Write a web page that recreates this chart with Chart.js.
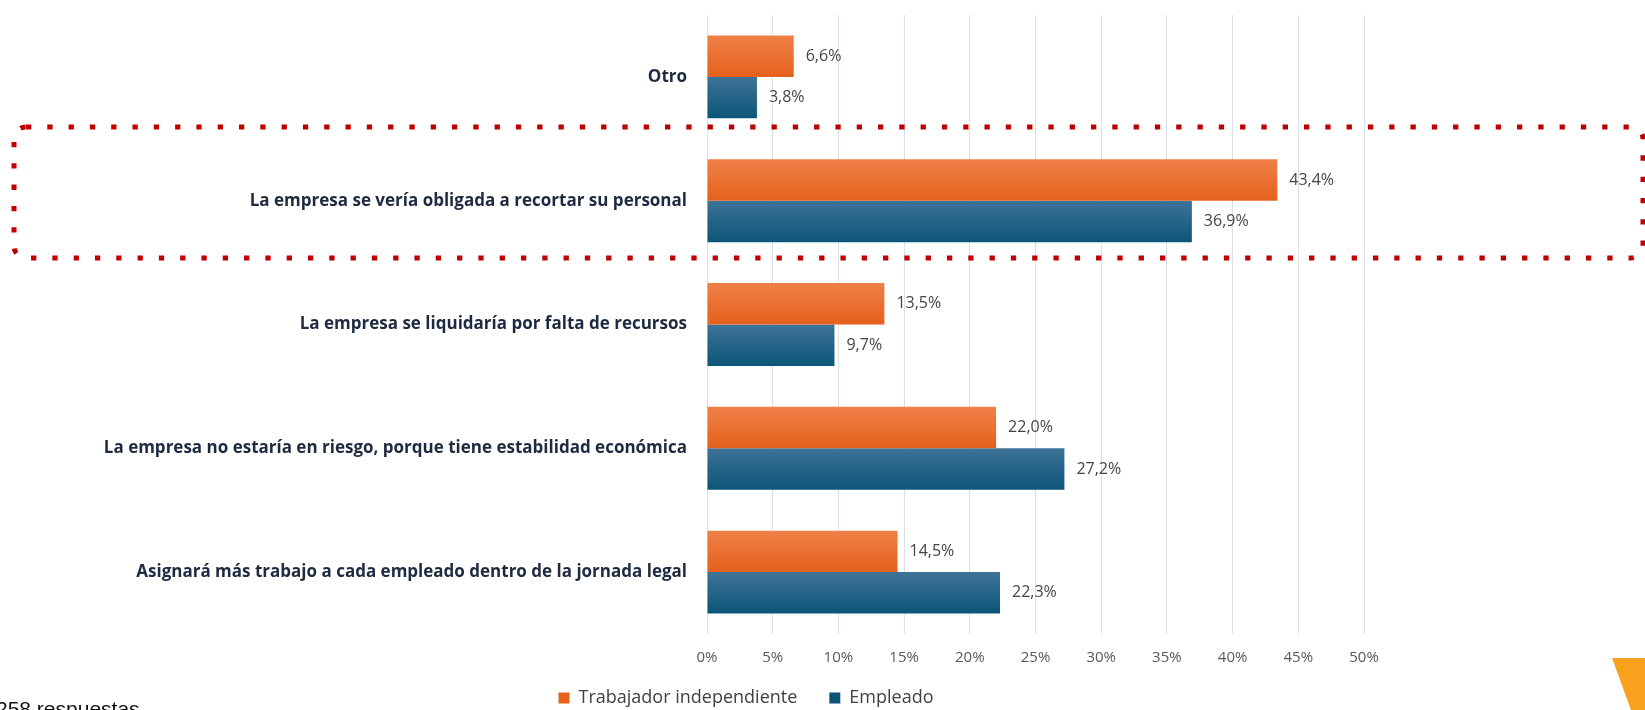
<!DOCTYPE html>
<html>
<head>
<meta charset="utf-8">
<script src="https://cdn.jsdelivr.net/npm/chart.js@4"></script>
<style>
  html, body { margin: 0; padding: 0; background: #fff; }
  #wrap { position: relative; width: 1645px; height: 710px; overflow: hidden; }
  #chart { position: absolute; left: 0; top: 0; }
  #note { position: absolute; left: -4px; top: 697px; font: 21px "Liberation Sans", Arial, sans-serif; color: #111; white-space: nowrap; }
</style>
</head>
<body>
<div id="wrap">
  <canvas id="chart" width="1645" height="710"></canvas>
  <div id="note">258 respuestas</div>
</div>
<script>
const CATEGORIES = [
    'Otro',
    'La empresa se vería obligada a recortar su personal',
    'La empresa se liquidaría por falta de recursos',
    'La empresa no estaría en riesgo, porque tiene estabilidad económica',
    'Asignará más trabajo a cada empleado dentro de la jornada legal'
];
const SERIES_NAMES = ['Trabajador independiente', 'Empleado'];
const INDEPENDIENTE = [6.6, 43.4, 13.5, 22.0, 14.5];
const EMPLEADO = [3.8, 36.9, 9.7, 27.2, 22.3];
const X_MAX = 50;
const X_STEP = 5;

const CAT_PCT = 0.67;
const FONT = '"Open Sans", "Liberation Sans", Arial, sans-serif';
const LEGEND_PAD = 32;
const LEGEND_CENTER_X = 730;
const LEGEND_CENTER_Y = 698;

// vertical gradient for each bar, computed from the y scale
function barFill(topColor, bottomColor, solid) {
    return (c) => {
        if (c.dataIndex === undefined) return solid;
        const chart = c.chart;
        const y = chart.scales.y;
        if (!y || !chart.chartArea) return solid;
        const center = y.getPixelForValue(c.dataIndex);
        const group = (y.height / CATEGORIES.length) * CAT_PCT;
        const h = group / 2;
        const t = center - group / 2 + c.datasetIndex * h;
        const g = chart.ctx.createLinearGradient(0, t, 0, t + h);
        g.addColorStop(0, topColor);
        g.addColorStop(1, bottomColor);
        return g;
    };
}

const valueLabels = {
    id: 'valueLabels',
    afterDatasetsDraw(chart) {
        const ctx = chart.ctx;
        ctx.save();
        ctx.font = '16px ' + FONT;
        ctx.fillStyle = '#454545';
        ctx.textAlign = 'left';
        ctx.textBaseline = 'middle';
        chart.data.datasets.forEach((ds, di) => {
            chart.getDatasetMeta(di).data.forEach((bar, i) => {
                const txt = ds.data[i].toFixed(1).replace('.', ',') + '%';
                ctx.fillText(txt, bar.x + 12, bar.y);
            });
        });
        ctx.restore();
    }
};

// move the legend to where the original sits (left of the plot centre, near the bottom)
const legendPlace = {
    id: 'legendPlace',
    afterLayout(chart) {
        const lg = chart.legend;
        if (!lg) return;
        lg.left = 0;
        lg.right = 2 * LEGEND_CENTER_X + LEGEND_PAD;
        lg.top = LEGEND_CENTER_Y - LEGEND_PAD - 9;
    }
};

// dotted highlight box and the corner shape
const decorations = {
    id: 'decorations',
    afterDraw(chart) {
        const ctx = chart.ctx;
        ctx.save();
        ctx.strokeStyle = '#c00000';
        ctx.lineWidth = 5;
        ctx.setLineDash([5.3, 16]);
        ctx.beginPath();
        ctx.roundRect(14, 127, 1629, 131, 12);
        ctx.stroke();
        ctx.setLineDash([]);
        ctx.fillStyle = '#f7a11c';
        ctx.beginPath();
        ctx.moveTo(1612, 658);
        ctx.lineTo(1645, 658);
        ctx.lineTo(1645, 710);
        ctx.lineTo(1631, 710);
        ctx.closePath();
        ctx.fill();
        ctx.restore();
    }
};

new Chart(document.getElementById('chart'), {
    type: 'bar',
    data: {
        labels: CATEGORIES,
        datasets: [
            { label: SERIES_NAMES[0], data: INDEPENDIENTE, backgroundColor: barFill('#ef8048', '#e5611c', '#e96a2a'), borderWidth: 0 },
            { label: SERIES_NAMES[1], data: EMPLEADO, backgroundColor: barFill('#3e7397', '#0c5577', '#1a5e84'), borderWidth: 0 }
        ]
    },
    options: {
        indexAxis: 'y',
        responsive: false,
        animation: false,
        categoryPercentage: CAT_PCT,
        barPercentage: 1.0,
        layout: { padding: { top: 15, right: 281, left: 0, bottom: 0 } },
        scales: {
            x: {
                min: 0, max: X_MAX,
                ticks: { stepSize: X_STEP, padding: 15, color: '#595959', font: { size: 15, family: FONT }, callback: v => v + '%' },
                grid: { color: '#d9e0e8', drawTicks: false },
                border: { display: false },
                afterFit: s => { s.height = 46; s.paddingLeft = 0; s.paddingRight = 0; }
            },
            y: {
                ticks: { padding: 20, color: '#1e2a40', font: { size: 17, weight: 'bold', family: FONT } },
                grid: { display: false, drawTicks: false },
                border: { display: false },
                afterFit: s => { s.width = 707; s.paddingTop = 0; s.paddingBottom = 0; }
            }
        },
        plugins: {
            legend: {
                position: 'bottom',
                maxHeight: 30,
                labels: { boxWidth: 11, boxHeight: 11, padding: LEGEND_PAD, color: '#404040', font: { size: 18, family: FONT } }
            },
            tooltip: { enabled: false }
        }
    },
    plugins: [valueLabels, legendPlace, decorations]
});
</script>
</body>
</html>
